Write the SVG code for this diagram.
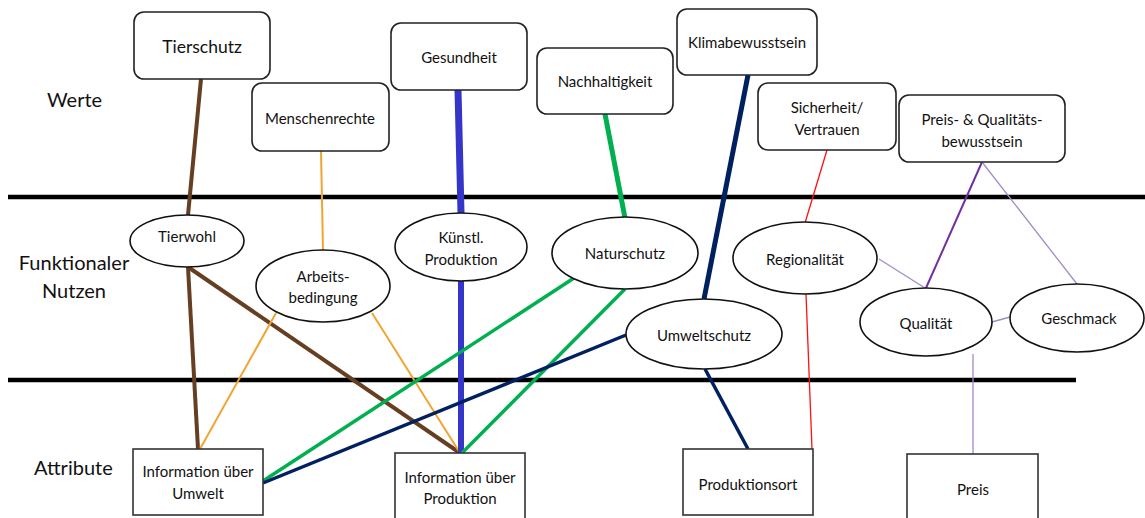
<svg xmlns="http://www.w3.org/2000/svg" width="1145" height="518" viewBox="0 0 1145 518">
<style>
text{font-family:Lato,"Liberation Sans",sans-serif;fill:#111;text-anchor:middle}
.lbl{font-size:20px;text-anchor:start}
.n{font-size:15px}
.v{fill:#fff;stroke:#222;stroke-width:1.6}
.a{fill:#fff;stroke:#333;stroke-width:1.6}
.e{fill:#fff;stroke:#111;stroke-width:1.6}
.band{stroke:#000;stroke-width:4.5}
line{fill:none;stroke-linecap:butt}
.br{stroke:#663F22;stroke-width:4}
.or{stroke:#F0A531;stroke-width:2}
.bl{stroke:#3535C8;stroke-width:7}
.gr{stroke:#00B050;stroke-width:3.5}
.nv{stroke:#002060;stroke-width:3.5}
.rd{stroke:#FF1010;stroke-width:1.3}
.pd{stroke:#7030A0;stroke-width:2}
.pl{stroke:#A18CC6;stroke-width:1.3}
</style>
<rect width="1145" height="518" fill="#fff"/>
<g id="bands">
<line class="band" x1="8" y1="197" x2="1145" y2="197"/>
<line class="band" x1="8" y1="380" x2="1076" y2="380"/>
<text class="lbl" x="47" y="107">Werte</text>
<text class="lbl" x="74" y="270" style="text-anchor:middle">Funktionaler</text>
<text class="lbl" x="74" y="298" style="text-anchor:middle">Nutzen</text>
<text class="lbl" x="34" y="475">Attribute</text>
</g>
<g id="connectors">
<line class="br" x1="201" y1="79" x2="188" y2="215"/>
<line class="br" x1="188" y1="267" x2="198" y2="449"/>
<line class="br" x1="188" y1="267" x2="460" y2="453"/>
<line class="or" x1="321" y1="151" x2="323" y2="250"/>
<line class="or" x1="276" y1="313" x2="200" y2="449"/>
<line class="or" x1="372" y1="313" x2="460" y2="453"/>
<line class="bl" x1="458" y1="90" x2="461" y2="213"/>
<line class="bl" x1="461" y1="281" x2="461" y2="453" style="stroke-width:6"/>
<line class="gr" x1="605" y1="114" x2="625" y2="218" style="stroke-width:5"/>
<line class="gr" x1="574" y1="278" x2="263" y2="481"/>
<line class="gr" x1="625" y1="289" x2="462" y2="453"/>
<line class="nv" x1="748" y1="75" x2="704" y2="299" style="stroke-width:5"/>
<line class="nv" x1="626" y1="335" x2="263" y2="483"/>
<line class="nv" x1="705" y1="369" x2="748" y2="449"/>
<line class="rd" x1="827" y1="150" x2="805" y2="223"/>
<line class="rd" x1="806" y1="294" x2="812" y2="449"/>
<line class="pd" x1="982" y1="162" x2="926" y2="288"/>
<line class="pl" x1="982" y1="162" x2="1077" y2="284"/>
<line class="pl" x1="879" y1="259" x2="925" y2="288"/>
<line class="pl" x1="992" y1="322" x2="1010" y2="317"/>
<line class="pl" x1="973" y1="354" x2="973" y2="454"/>
</g>
<g id="tierschutz"><rect class="v" x="134" y="12" width="136" height="67" rx="10"/><text x="202" y="53" style="font-size:17.5px">Tierschutz</text></g>
<g id="menschenrechte"><rect class="v" x="252" y="83" width="137" height="68" rx="10"/><text class="n" x="320" y="124">Menschenrechte</text></g>
<g id="gesundheit"><rect class="v" x="391" y="23" width="136" height="67" rx="10"/><text class="n" x="459" y="63">Gesundheit</text></g>
<g id="nachhaltigkeit"><rect class="v" x="537" y="48" width="136" height="66" rx="10"/><text class="n" x="605" y="87">Nachhaltigkeit</text></g>
<g id="klimabewusstsein"><rect class="v" x="677" y="9" width="140" height="66" rx="10"/><text class="n" x="747" y="48">Klimabewusstsein</text></g>
<g id="sicherheit"><rect class="v" x="758" y="83" width="138" height="67" rx="10"/><text class="n" x="827" y="113">Sicherheit/</text><text class="n" x="827" y="135">Vertrauen</text></g>
<g id="preisqualitaetsbewusstsein"><rect class="v" x="899" y="95" width="166" height="67" rx="10"/><text class="n" x="982" y="125">Preis- &amp; Qualitäts-</text><text class="n" x="982" y="147">bewusstsein</text></g>
<g id="tierwohl"><ellipse class="e" cx="187" cy="241" rx="57" ry="26"/><text class="n" x="187" y="242">Tierwohl</text></g>
<g id="arbeitsbedingung"><ellipse class="e" cx="323" cy="286" rx="67" ry="36"/><text class="n" x="323" y="282">Arbeits-</text><text class="n" x="323" y="303">bedingung</text></g>
<g id="kuenstlproduktion"><ellipse class="e" cx="461" cy="247" rx="66" ry="34"/><text class="n" x="461" y="243">Künstl.</text><text class="n" x="461" y="265">Produktion</text></g>
<g id="naturschutz"><ellipse class="e" cx="625" cy="253" rx="73" ry="36"/><text class="n" x="625" y="259">Naturschutz</text></g>
<g id="umweltschutz"><ellipse class="e" cx="704" cy="334" rx="78" ry="35"/><text class="n" x="704" y="341">Umweltschutz</text></g>
<g id="regionalitaet"><ellipse class="e" cx="805" cy="258" rx="72" ry="36"/><text class="n" x="805" y="265">Regionalität</text></g>
<g id="qualitaet"><ellipse class="e" cx="926" cy="322" rx="66" ry="34"/><text class="n" x="926" y="329">Qualität</text></g>
<g id="geschmack"><ellipse class="e" cx="1077" cy="318" rx="67" ry="34"/><text class="n" x="1079" y="324">Geschmack</text></g>
<g id="infoumwelt"><rect class="a" x="133" y="449" width="130" height="66"/><text class="n" x="198" y="477">Information über</text><text class="n" x="198" y="499">Umwelt</text></g>
<g id="infoproduktion"><rect class="a" x="395" y="453" width="130" height="70"/><text class="n" x="460" y="483">Information über</text><text class="n" x="460" y="504">Produktion</text></g>
<g id="produktionsort"><rect class="a" x="683" y="449" width="130" height="66"/><text class="n" x="748" y="490">Produktionsort</text></g>
<g id="preis"><rect class="a" x="907" y="454" width="131" height="70"/><text class="n" x="973" y="495">Preis</text></g>
</svg>
